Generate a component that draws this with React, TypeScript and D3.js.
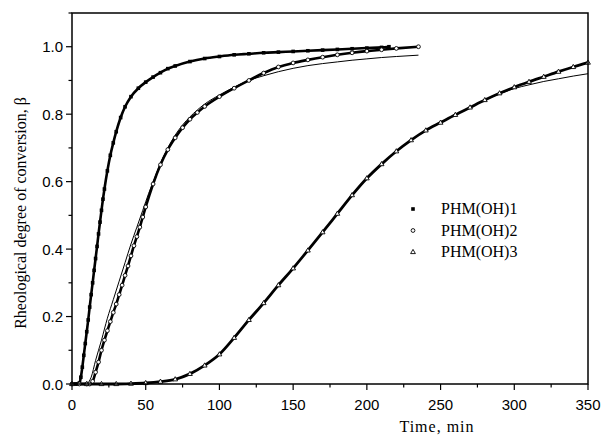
import React from 'react';
import * as d3 from 'd3';

// PHM(OH)1 experimental points
const time1 = [0, 2, 4, 5, 6, 7, 8, 9, 10, 11, 12, 13, 14, 15, 16, 17, 18, 19, 20, 21, 22, 24, 26, 28, 30, 33, 36, 40, 45, 50, 55, 60, 65, 70, 80, 90, 100, 110, 120, 130, 140, 150, 160, 170, 180, 190, 200, 210, 215];
const beta1 = [0, 0, 0, 0.003, 0.02, 0.05, 0.085, 0.12, 0.155, 0.19, 0.228, 0.265, 0.3, 0.337, 0.372, 0.408, 0.445, 0.48, 0.515, 0.548, 0.578, 0.632, 0.678, 0.715, 0.748, 0.79, 0.822, 0.852, 0.877, 0.895, 0.91, 0.923, 0.935, 0.943, 0.956, 0.965, 0.971, 0.976, 0.979, 0.982, 0.984, 0.986, 0.988, 0.99, 0.992, 0.994, 0.996, 0.998, 1.0];

// PHM(OH)2 experimental points and fit
const time2 = [0, 5, 10, 12, 14, 16, 18, 20, 22, 24, 26, 28, 30, 32, 34, 36, 38, 40, 42, 44, 46, 48, 50, 55, 60, 65, 70, 75, 80, 85, 90, 100, 110, 120, 130, 140, 150, 160, 170, 180, 190, 200, 210, 220, 235];
const beta2 = [0, 0, 0, 0, 0.008, 0.035, 0.065, 0.1, 0.13, 0.158, 0.185, 0.212, 0.237, 0.265, 0.293, 0.322, 0.35, 0.38, 0.41, 0.437, 0.465, 0.495, 0.525, 0.593, 0.65, 0.695, 0.73, 0.76, 0.785, 0.805, 0.823, 0.852, 0.877, 0.9, 0.922, 0.94, 0.952, 0.961, 0.969, 0.976, 0.982, 0.987, 0.991, 0.995, 1.0];
const fitTime2 = [10, 13, 16, 20, 24, 28, 32, 36, 40, 44, 48, 52, 56, 60, 65, 70, 75, 80, 90, 100, 110, 120, 130, 140, 150, 160, 170, 180, 190, 200, 210, 220, 235];
const fitBeta2 = [0, 0.02, 0.07, 0.13, 0.195, 0.25, 0.305, 0.36, 0.415, 0.465, 0.515, 0.565, 0.61, 0.655, 0.7, 0.738, 0.768, 0.792, 0.83, 0.857, 0.88, 0.9, 0.914, 0.926, 0.936, 0.944, 0.95, 0.955, 0.96, 0.964, 0.968, 0.971, 0.975];

// PHM(OH)3 experimental points and fit
const time3 = [0, 10, 20, 30, 40, 50, 60, 70, 80, 90, 100, 110, 120, 130, 140, 150, 160, 170, 180, 190, 200, 210, 220, 230, 240, 250, 260, 270, 280, 290, 300, 310, 320, 330, 340, 350];
const beta3 = [0, 0, 0, 0, 0.001, 0.003, 0.007, 0.014, 0.03, 0.055, 0.088, 0.137, 0.19, 0.24, 0.293, 0.343, 0.396, 0.45, 0.505, 0.56, 0.61, 0.652, 0.69, 0.723, 0.752, 0.775, 0.798, 0.82, 0.842, 0.862, 0.88, 0.896, 0.911, 0.926, 0.94, 0.953];
const fitTime3 = [40, 50, 60, 70, 80, 90, 100, 110, 120, 130, 140, 150, 160, 170, 180, 190, 200, 210, 220, 230, 240, 250, 260, 270, 280, 290, 300, 310, 320, 330, 340, 350];
const fitBeta3 = [0, 0.003, 0.007, 0.014, 0.03, 0.055, 0.088, 0.137, 0.19, 0.24, 0.293, 0.343, 0.396, 0.45, 0.505, 0.56, 0.61, 0.652, 0.69, 0.723, 0.752, 0.775, 0.798, 0.82, 0.842, 0.86, 0.876, 0.887, 0.897, 0.905, 0.913, 0.92];

const xTicks = [0, 50, 100, 150, 200, 250, 300, 350];
const yTicks = [0, 0.2, 0.4, 0.6, 0.8, 1.0];
const legendNames = ['PHM(OH)1', 'PHM(OH)2', 'PHM(OH)3'];

const W = 602;
const H = 441;
const margin = { left: 72, right: 14, top: 13, bottom: 57 };

const zip = (ts: number[], bs: number[]) => ts.map((t, i) => [t, bs[i]] as [number, number]);

const App = () => {
  const x = d3.scaleLinear().domain([0, 350]).range([margin.left, W - margin.right]);
  const y = d3.scaleLinear().domain([0, 1.1]).range([H - margin.bottom, margin.top]);
  const line = d3
    .line<[number, number]>()
    .x((d) => x(d[0]))
    .y((d) => y(d[1]))
    .curve(d3.curveMonotoneX);

  const s1 = zip(time1, beta1);
  const s2 = zip(time2, beta2);
  const s3 = zip(time3, beta3);
  const f2 = zip(fitTime2, fitBeta2);
  const f3 = zip(fitTime3, fitBeta3);

  const x0 = x(0);
  const x1 = x(350);
  const y0 = y(0);
  const yTop = y(1.1);

  const xMinor = d3.range(25, 350, 50);
  const yMinor = d3.range(0.1, 1.15, 0.2);

  const square = (cx: number, cy: number, k: string) => (
    <rect key={k} x={cx - 1.8} y={cy - 1.8} width={3.6} height={3.6} fill="#000" />
  );
  const circle = (cx: number, cy: number, k: string) => (
    <circle key={k} cx={cx} cy={cy} r={1.9} fill="#fff" stroke="#000" strokeWidth={0.9} />
  );
  const triangle = (cx: number, cy: number, k: string) => (
    <path key={k} d={`M${cx},${cy - 2.6}L${cx + 2.4},${cy + 1.6}L${cx - 2.4},${cy + 1.6}Z`} fill="#fff" stroke="#000" strokeWidth={0.9} />
  );

  const tickFont = { fontFamily: '"Liberation Sans", Arial, sans-serif', fontSize: 15 };
  const titleFont = { fontFamily: '"Liberation Serif", "Times New Roman", serif', fontSize: 16 };

  return (
    <svg width={W} height={H} style={{ position: 'absolute', left: 0, top: 0, background: '#fff' }}>
      <rect width={W} height={H} fill="#fff" />

      {/* fitted curves */}
      <path d={line(s1) || ''} fill="none" stroke="#000" strokeWidth={1} />
      <path d={line(f2) || ''} fill="none" stroke="#000" strokeWidth={1} />
      <path d={line(f3) || ''} fill="none" stroke="#000" strokeWidth={1} />

      {/* dense experimental points: thick trace + markers */}
      <path d={line(s1) || ''} fill="none" stroke="#000" strokeWidth={2.6} />
      <path d={line(s2) || ''} fill="none" stroke="#000" strokeWidth={2.6} />
      <path d={line(s3) || ''} fill="none" stroke="#000" strokeWidth={2.8} />
      {s1.map((d, i) => square(x(d[0]), y(d[1]), 'a' + i))}
      {s2.map((d, i) => circle(x(d[0]), y(d[1]), 'b' + i))}
      {s3.map((d, i) => triangle(x(d[0]), y(d[1]), 'c' + i))}

      {/* frame */}
      <rect x={x0} y={yTop} width={x1 - x0} height={y0 - yTop} fill="none" stroke="#000" strokeWidth={1.5} />

      {/* x ticks */}
      {xTicks.map((t) => (
        <g key={'xt' + t}>
          <line x1={x(t)} x2={x(t)} y1={y0} y2={y0 + 6} stroke="#000" strokeWidth={1.2} />
          <text x={x(t)} y={410} textAnchor="middle" {...tickFont}>{t}</text>
        </g>
      ))}
      {xMinor.map((t) => (
        <line key={'xm' + t} x1={x(t)} x2={x(t)} y1={y0} y2={y0 + 3.5} stroke="#000" strokeWidth={1.2} />
      ))}

      {/* y ticks */}
      {yTicks.map((t) => (
        <g key={'yt' + t}>
          <line x1={x0 - 6} x2={x0} y1={y(t)} y2={y(t)} stroke="#000" strokeWidth={1.2} />
          <text x={63} y={y(t) + 5.5} textAnchor="end" {...tickFont}>{t.toFixed(1)}</text>
        </g>
      ))}
      {yMinor.map((t) => (
        <line key={'ym' + t} x1={x0 - 3.5} x2={x0} y1={y(t)} y2={y(t)} stroke="#000" strokeWidth={1.2} />
      ))}

      {/* axis titles */}
      <text x={437} y={432} textAnchor="middle" letterSpacing={1} {...titleFont}>Time, min</text>
      <text transform={`translate(26,213) rotate(-90)`} textAnchor="middle" {...titleFont}>
        Rheological degree of conversion, β
      </text>

      {/* legend */}
      {legendNames.map((name, i) => {
        const ly = 209 + i * 21.5;
        const mk = i === 0 ? square(413, ly, 'l' + i) : i === 1 ? circle(413, ly, 'l' + i) : triangle(413, ly, 'l' + i);
        return (
          <g key={name}>
            {mk}
            <text x={441} y={ly + 5} {...titleFont}>{name}</text>
          </g>
        );
      })}
    </svg>
  );
};

export default App;
